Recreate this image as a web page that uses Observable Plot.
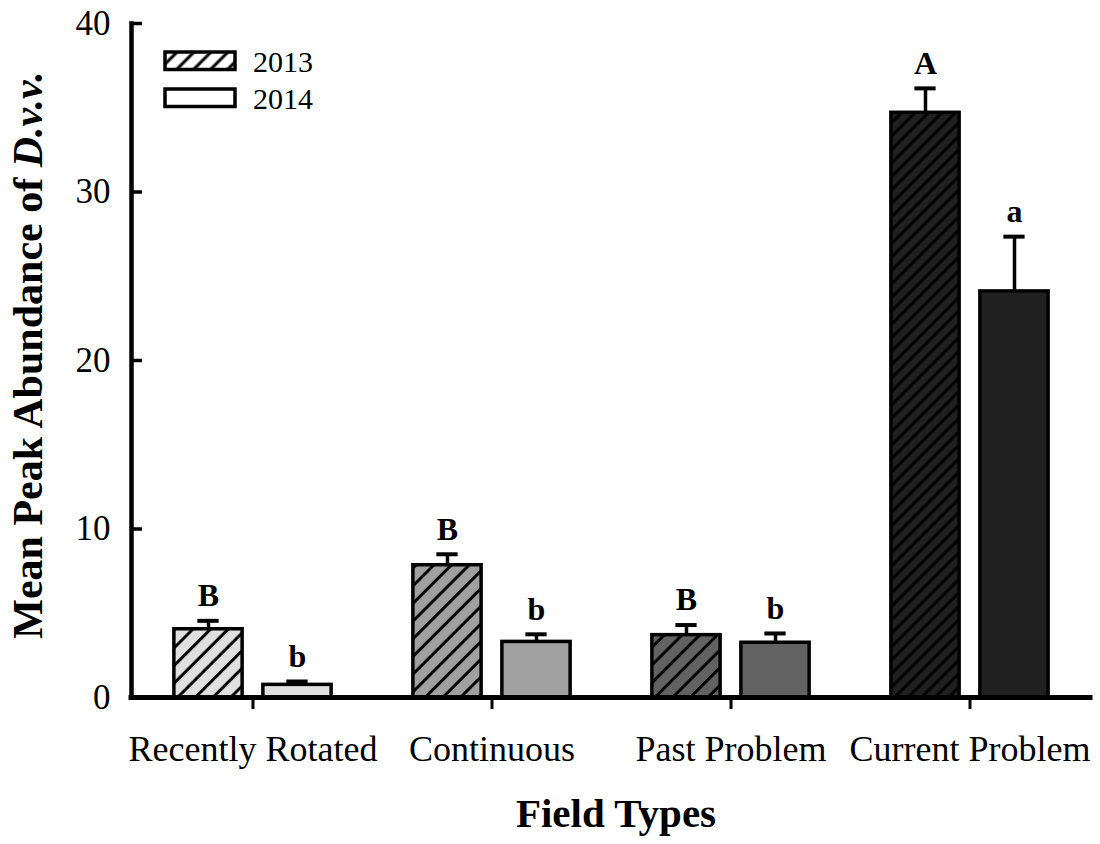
<!DOCTYPE html>
<html><head><meta charset="utf-8">
<script src="https://cdn.jsdelivr.net/npm/d3@7"></script>
<script src="https://cdn.jsdelivr.net/npm/@observablehq/plot@0.6"></script>
<style>
body{margin:0;background:#fff}
#chart svg{font-family:"Liberation Serif","Times New Roman",serif}
</style>
</head><body><div id="chart"></div>
<script>
// ---- data ----
const fields = ["Recently Rotated", "Continuous", "Past Problem", "Current Problem"];
const years = ["2013", "2014"];
const mean2013 = [4.05, 7.85, 3.7, 34.7];
const se2013 = [0.5, 0.65, 0.6, 1.45];
const mean2014 = [0.75, 3.3, 3.25, 24.1];
const se2014 = [0.2, 0.45, 0.55, 3.25];
const letters2013 = ["B", "B", "B", "A"];
const letters2014 = ["b", "b", "b", "a"];
const groupFills = ["#e0e0e0", "#a0a0a0", "#626262", "#202020"];
const yTicks = [0, 10, 20, 30, 40];

const rows2013 = fields.map((f, i) => ({field: f, idx: i, mean: mean2013[i], upper: mean2013[i] + se2013[i], letter: letters2013[i]}));
const rows2014 = fields.map((f, i) => ({field: f, idx: i, mean: mean2014[i], upper: mean2014[i] + se2014[i], letter: letters2014[i]}));

// ---- layout ----
const W = 1100, H = 844, mL = 131, mR = 10, mT = 23, mB = 147;
const bw = (W - mL - mR) / fields.length;
const half = bw / 2;
const outerOff = 79, innerOff = 10, errOff = 44.5, capHalf = 11;

const marks = [];
rows2013.forEach(r => marks.push(Plot.barY([r], {
  x: "field", y: "mean", fill: `url(#hatch${r.idx})`, stroke: "black", strokeWidth: 3.5,
  insetLeft: half - outerOff, insetRight: half + innerOff
})));
rows2014.forEach(r => marks.push(Plot.barY([r], {
  x: "field", y: "mean", fill: groupFills[r.idx], stroke: "black", strokeWidth: 3.5,
  insetLeft: half + innerOff, insetRight: half - outerOff
})));
// error bars
marks.push(Plot.ruleX(rows2013, {x: "field", y1: "mean", y2: "upper", dx: -errOff, stroke: "black", strokeWidth: 3.5}));
marks.push(Plot.ruleX(rows2014, {x: "field", y1: "mean", y2: "upper", dx: errOff, stroke: "black", strokeWidth: 3.5}));
marks.push(Plot.tickY(rows2013, {x: "field", y: "upper", stroke: "black", strokeWidth: 4,
  insetLeft: half - errOff - capHalf, insetRight: half + errOff - capHalf}));
marks.push(Plot.tickY(rows2014, {x: "field", y: "upper", stroke: "black", strokeWidth: 4,
  insetLeft: half + errOff - capHalf, insetRight: half - errOff - capHalf}));
// letters
marks.push(Plot.text(rows2013, {x: "field", y: "upper", text: "letter", dx: -errOff, dy: -25, fontSize: 32, fontWeight: "bold", fill: "black"}));
marks.push(Plot.text(rows2014, {x: "field", y: "upper", text: "letter", dx: errOff, dy: -25, fontSize: 32, fontWeight: "bold", fill: "black"}));
// axes
marks.push(Plot.axisY({ticks: yTicks, tickSize: -11, tickPadding: 32, fontSize: 35, strokeWidth: 3.5, tickFormat: d => String(d), label: null}));
marks.push(Plot.axisX({tickSize: 12, tickPadding: 26, fontSize: 36, strokeWidth: 3, label: null}));
marks.push(Plot.ruleY([0], {stroke: "black", strokeWidth: 5, strokeLinecap: "square"}));
marks.push(Plot.frame({anchor: "left", stroke: "black", strokeWidth: 4.5, strokeLinecap: "square"}));

const chart = Plot.plot({
  width: W, height: H,
  marginLeft: mL, marginRight: mR, marginTop: mT, marginBottom: mB,
  style: {fontFamily: "Liberation Serif", color: "black", background: "white", overflow: "visible"},
  x: {domain: fields, padding: 0, label: null},
  y: {domain: [0, 40], label: null},
  marks
});
document.getElementById("chart").appendChild(chart);

// ---- patterns, legend, titles ----
const svg = d3.select(chart);
const defs = svg.insert("defs", ":first-child");
const spacing = [12.5, 12.5, 12.5, 9.5];
groupFills.concat(["#ffffff"]).forEach((c, i) => {
  const s = i < 4 ? spacing[i] : 12;
  const p = defs.append("pattern").attr("id", i < 4 ? "hatch" + i : "hatchL")
    .attr("patternUnits", "userSpaceOnUse").attr("width", s).attr("height", s)
    .attr("patternTransform", "rotate(45)");
  p.append("rect").attr("width", s).attr("height", s).attr("fill", c);
  p.append("line").attr("x1", s / 2).attr("y1", 0).attr("x2", s / 2).attr("y2", s)
    .attr("stroke", "black").attr("stroke-width", 3);
});

const lg = svg.append("g").attr("font-family", "Liberation Serif").attr("font-size", 30)
  .attr("text-anchor", "start");
[["hatchL", "2013", 52], ["none", "2014", 89]].forEach(([pat, label, y]) => {
  lg.append("rect").attr("x", 165).attr("y", y).attr("width", 70).attr("height", 17.5)
    .attr("fill", pat === "none" ? "white" : `url(#${pat})`).attr("stroke", "black").attr("stroke-width", 3.5);
  lg.append("text").attr("x", 253).attr("y", y + 20).attr("fill", "black")
    .attr("text-anchor", "start").text(label);
});

const yt = svg.append("text").attr("transform", "translate(42,355) rotate(-90)")
  .attr("text-anchor", "middle").attr("font-weight", "bold").attr("font-size", 42)
  .attr("font-family", "Liberation Serif").attr("fill", "black");
yt.append("tspan").text("Mean Peak Abundance of ");
yt.append("tspan").attr("font-style", "italic").text("D.v.v.");

svg.append("text").attr("x", 616).attr("y", 827).attr("text-anchor", "middle")
  .attr("font-weight", "bold").attr("font-size", 41).attr("font-family", "Liberation Serif")
  .attr("fill", "black").text("Field Types");
</script>
</body></html>
